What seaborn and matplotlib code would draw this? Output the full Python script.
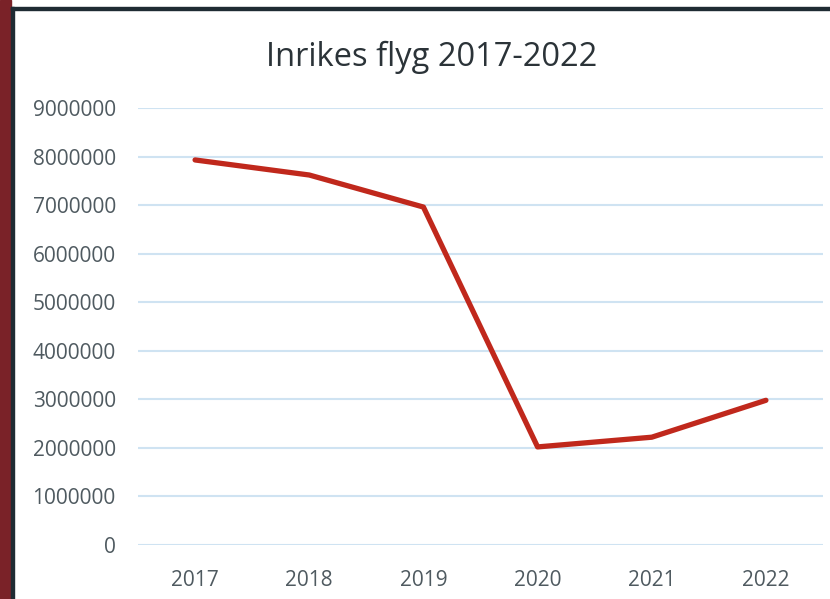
import matplotlib
matplotlib.use("Agg")
import matplotlib.pyplot as plt
import matplotlib.patches as mpatches
import pandas as pd
import seaborn as sns

years = ["2017", "2018", "2019", "2020", "2021", "2022"]
passengers = [7930000, 7620000, 6960000, 2020000, 2220000, 2980000]
yticks = [0, 1000000, 2000000, 3000000, 4000000, 5000000, 6000000, 7000000, 8000000, 9000000]
title = "Inrikes flyg 2017-2022"

sns.set_style("white")
plt.rcParams['font.family'] = ['Open Sans', 'DejaVu Sans']

df = pd.DataFrame({"year": years, "passengers": passengers})

fig = plt.figure(figsize=(8.3, 5.99), dpi=100)
ax = fig.add_axes([138 / 830, 54 / 599, 685 / 830, 437 / 599])

sns.lineplot(data=df, x="year", y="passengers", ax=ax, color="#C0281C",
             linewidth=3.8, sort=False, solid_capstyle="round", zorder=3)

ax.set_xlim(-0.5, len(years) - 0.5)
ax.set_ylim(0, 9000000)
ax.set_yticks(yticks)
ax.set_yticklabels([str(v) for v in yticks])
ax.grid(axis="y", color="#CFE3F2", linewidth=1.5)
ax.grid(axis="x", visible=False)
for s in ax.spines.values():
    s.set_visible(False)
ax.tick_params(axis="both", length=0, labelsize=15, labelcolor="#4F5A60")
ax.tick_params(axis="y", pad=16)
ax.tick_params(axis="x", pad=18)
ax.set_xlabel("")
ax.set_ylabel("")

fig.text(432 / 830, 1 - 57 / 599, title, ha="center", va="center",
         fontsize=23.5, color="#2B3338")

# frame around the chart as in the screenshot
fig.patches.append(mpatches.Rectangle((0, 0), 11 / 830, 1, transform=fig.transFigure,
                                      color="#7A2228", zorder=10))
fig.patches.append(mpatches.Rectangle((11 / 830, 0), 3 / 830, 1 - 7 / 599, transform=fig.transFigure,
                                      color="#1F2B33", zorder=10))
fig.patches.append(mpatches.Rectangle((11 / 830, 1 - 10 / 599), 1, 3 / 599, transform=fig.transFigure,
                                      color="#1F2B33", zorder=10))

fig.savefig("out.png", dpi=100)
